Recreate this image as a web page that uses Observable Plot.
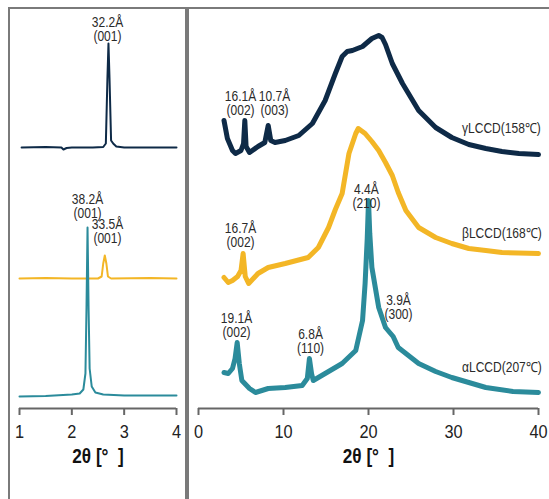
<!DOCTYPE html>
<html>
<head>
<meta charset="utf-8">
<script src="https://cdn.jsdelivr.net/npm/d3@7"></script>
<script src="https://cdn.jsdelivr.net/npm/@observablehq/plot@0.6"></script>
<style>
  html, body { margin: 0; padding: 0; background: #fff; }
  #wrap { position: relative; width: 549px; height: 499px; overflow: hidden; background: #fff;
          font-family: "Liberation Sans", Arial, sans-serif; }
  .panel { position: absolute; box-sizing: border-box; }
  #lp { left: 8px; top: 7px; width: 179px; height: 520px; border: 2px solid #7a7a7a; border-bottom: none; }
  #rp { left: 187px; top: 7px; width: 380px; height: 520px; border: 2px solid #7a7a7a; border-right: none; border-bottom: none; }
  .plot { position: absolute; top: 0; }
  .plot svg { background: transparent !important; }
</style>
</head>
<body>
<div id="wrap">
  <div class="panel" id="lp"></div>
  <div class="panel" id="rp"></div>
  <div class="plot" id="left" style="left:0px"></div>
  <div class="plot" id="right" style="left:188px"></div>
</div>
<script>
// ---- Data (2θ in degrees, intensity in offset arbitrary units) ----
const colors = { gamma: "#0e2a47", beta: "#f3b626", alpha: "#2b8b9b" };

// Low-angle panel (2θ 1–4°)
const lowGamma = [[1.04,261],[1.5,261.5],[1.8,261],[1.84,259],[1.9,260.5],[2.0,261],[2.4,261],[2.6,261.5],[2.65,265],[2.68,330],[2.70,365],[2.72,330],[2.75,268],[2.79,265],[2.85,262],[3.0,261],[4.0,261]];
const lowBeta = [[1.0,130],[1.5,130.5],[2.0,130],[2.5,130],[2.57,132],[2.6,145],[2.63,153],[2.66,145],[2.69,132],[2.75,130],[3.5,130.5],[4.0,130]];
const lowAlpha = [[1.0,12],[1.5,12.5],[2.0,14],[2.15,15],[2.22,19],[2.26,35],[2.28,100],[2.30,181],[2.32,100],[2.34,40],[2.38,22],[2.45,16],[2.6,14],[3.0,13],[4.0,13]];

// Wide-angle panel (2θ 3–40°)
const wideGamma = [[3,288],[3.4,270],[4.0,258],[4.35,255],[5.0,258],[5.3,265],[5.45,288],[5.6,262],[6.0,256],[7.0,262],[7.8,266],[8.2,283],[8.5,268],[9.0,266],[10.2,268],[11.8,273],[13.4,285],[14.9,308],[16.1,335],[16.9,352],[17.5,357],[18.1,358],[19.3,362],[20.4,370],[21.2,373],[21.6,371],[22.0,364],[22.8,345],[24.0,325],[25.9,298],[27.9,281],[29.8,271],[31.8,264],[33.8,260],[35.7,257],[37.7,255],[40,254]];
const wideBeta = [[3,131],[3.5,126],[4.0,128],[4.6,132],[5.0,138],[5.25,155],[5.5,132],[5.9,125],[7.0,135],[8.2,141],[10.2,145],[12.0,149],[12.9,151],[14.1,161],[15.3,181],[16.1,199],[16.9,215],[17.7,255],[18.5,275],[18.8,280],[19.6,275],[20.4,267],[21.2,258],[22.0,246],[22.8,233],[23.5,216],[24.4,198],[25.9,181],[27.9,171],[29.8,165],[31.8,160],[33.8,158],[35.7,156],[40,155]];
const wideAlpha = [[3,36],[3.5,35],[4.0,40],[4.3,50],[4.55,66],[4.8,45],[5.1,28],[6.0,20],[6.7,16],[8.2,20],[10.2,21],[12.2,23],[12.8,30],[13.05,50],[13.3,35],[13.5,28],[14.9,35],[16.9,45],[18.5,58],[19.3,88],[19.6,125],[19.85,170],[20.0,208],[20.15,175],[20.4,141],[21.2,101],[22.0,81],[22.6,75],[22.9,72],[23.5,61],[25.9,45],[27.9,37],[29.8,31],[33.8,21],[37,17],[40,16]];

// Peak annotations: [2θ, y, text]
const lowPeakLabels = [[2.68,379,"32.2Å\n(001)"],[2.30,201.5,"38.2Å\n(001)"],[2.68,177,"33.5Å\n(001)"]];
const widePeakLabels = [[4.94,304.5,"16.1Å\n(002)"],[8.94,304.5,"10.7Å\n(003)"],[19.76,211.5,"4.4Å\n(210)"],[4.94,172.5,"16.7Å\n(002)"],[4.47,83,"19.1Å\n(002)"],[13.18,66.5,"6.8Å\n(110)"],[23.53,100.5,"3.9Å\n(300)"]];
const seriesNames = [[31.0,280,"γLCCD(158℃)"],[31.0,175,"βLCCD(168℃)"],[31.0,41,"αLCCD(207℃)"]];

const lowTicks = [1,2,3,4];
const wideTicks = [0,10,20,30,40];
const xTitle = "2θ [°\u00a0\u00a0]";

const font = '"Liberation Sans", Arial, sans-serif';

function panel({width, mL, mR, domain, ticks, series, labels, names, sw}) {
  const marks = [];
  for (const [data, c] of series) {
    marks.push(Plot.line(data, {x: d => d[0], y: d => d[1], stroke: c, strokeWidth: sw, strokeLinejoin: "round"}));
  }
  marks.push(Plot.text(labels, {x: d => d[0], y: d => d[1], text: d => d[2], fontSize: 14, fill: "#2a2a2a", lineHeight: 1.0, lineAnchor: "middle"}));
  if (names) marks.push(Plot.text(names, {x: d => d[0], y: d => d[1], text: d => d[2], fontSize: 14, fill: "#2a2a2a", textAnchor: "start"}));
  marks.push(Plot.ruleY([0], {stroke: "#666", strokeWidth: 2}));
  marks.push(Plot.axisX({ticks, tickSize: 7, tickPadding: 9, fontSize: 19, stroke: "#666", strokeWidth: 2, fill: "#222", label: null, tickFormat: d => String(d)}));
  marks.push(Plot.text([xTitle], {frameAnchor: "bottom", dy: 54, fontSize: 20, fontWeight: "bold", fill: "#111"}));
  return Plot.plot({
    width, height: 499,
    marginLeft: mL, marginRight: mR, marginTop: 8, marginBottom: 91,
    style: {fontFamily: font, background: "transparent", overflow: "visible"},
    x: {domain, label: null},
    y: {domain: [0, 400], axis: null},
    marks
  });
}

// condense text horizontally (narrow typeface look), scaling about each text's anchor
function condense(svg, s) {
  svg.querySelectorAll("text").forEach(t => {
    const bb = t.getBBox();
    const anchor = getComputedStyle(t).textAnchor;
    const cx = anchor === "middle" ? bb.x + bb.width / 2 : anchor === "end" ? bb.x + bb.width : bb.x;
    const tr = t.getAttribute("transform") || "";
    t.setAttribute("transform", `${tr} translate(${cx},0) scale(${s},1) translate(${-cx},0)`);
  });
}

const L = panel({
  width: 190, mL: 19, mR: 14, domain: [1, 4], ticks: lowTicks,
  series: [[lowGamma, colors.gamma], [lowBeta, colors.beta], [lowAlpha, colors.alpha]],
  labels: lowPeakLabels, names: null, sw: 2
});
document.getElementById("left").appendChild(L);
const R = panel({
  width: 361, mL: 10, mR: 11, domain: [0, 40], ticks: wideTicks,
  series: [[wideGamma, colors.gamma], [wideBeta, colors.beta], [wideAlpha, colors.alpha]],
  labels: widePeakLabels, names: seriesNames, sw: 5
});
document.getElementById("right").appendChild(R);
condense(L, 0.86);
condense(R, 0.86);
</script>
</body>
</html>
